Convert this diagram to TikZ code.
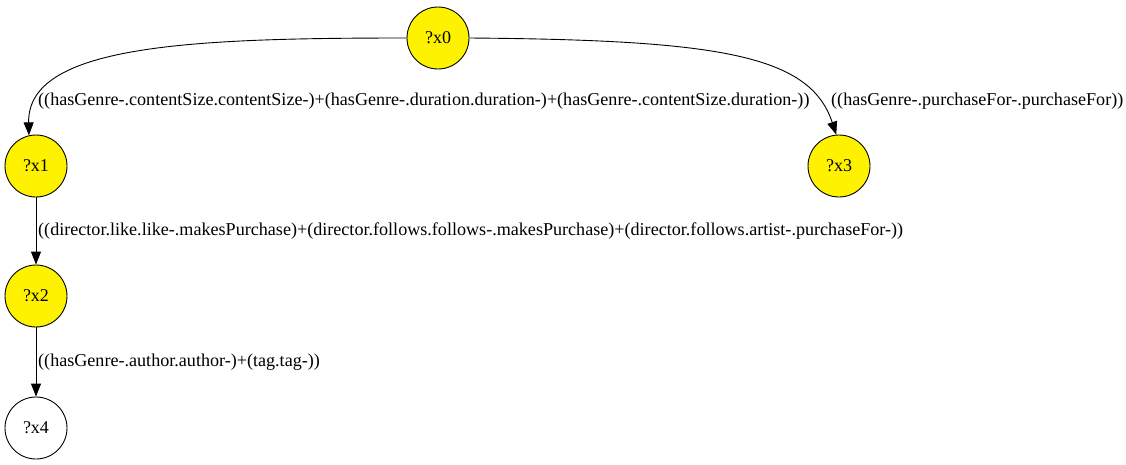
\documentclass[tikz,border=0pt]{standalone}
\usepackage{fontspec}
\setmainfont{Liberation Serif}
\usetikzlibrary{arrows.meta}
\begin{document}
\begin{tikzpicture}[x=1pt,y=-1pt,
  vnode/.style={circle,draw=black,line width=0.9pt,minimum size=62pt,inner sep=0pt,font=\fontsize{18}{20}\selectfont},
  hit/.style={vnode,fill=yellow},
  edge/.style={draw=black,line width=0.9pt,-{Triangle[length=13pt,width=10pt]}},
  elabel/.style={anchor=west,inner sep=0pt,font=\fontsize{18.1}{20}\selectfont}]
\useasboundingbox (0,0) rectangle (1126,464);
\node[hit] (x0) at (438,38) {?x0};
\node[hit] (x1) at (36,166) {?x1};
\node[hit] (x3) at (839,166) {?x3};
\node[hit] (x2) at (36,296) {?x2};
\node[vnode] (x4) at (36,428) {?x4};
\draw[edge] (x0.west) .. controls (190,38) and (27,45) .. (x1.103);
\draw[edge] (x0.east) .. controls (720,40) and (810,55) .. (x3.95);
\draw[edge] (x1.south) -- (x2.north);
\draw[edge] (x2.south) -- (x4.north);
\node[elabel] (l1) at (38,101) {((hasGenre-.contentSize.contentSize-)+(hasGenre-.duration.duration-)+(hasGenre-.contentSize.duration-))};
\node[elabel] (l3) at (831,101) {((hasGenre-.purchaseFor-.purchaseFor))};
\node[elabel] (l2) at (38,231) {((director.like.like-.makesPurchase)+(director.follows.follows-.makesPurchase)+(director.follows.artist-.purchaseFor-))};
\node[elabel] (l4) at (38,362) {((hasGenre-.author.author-)+(tag.tag-))};
\end{tikzpicture}
\end{document}
